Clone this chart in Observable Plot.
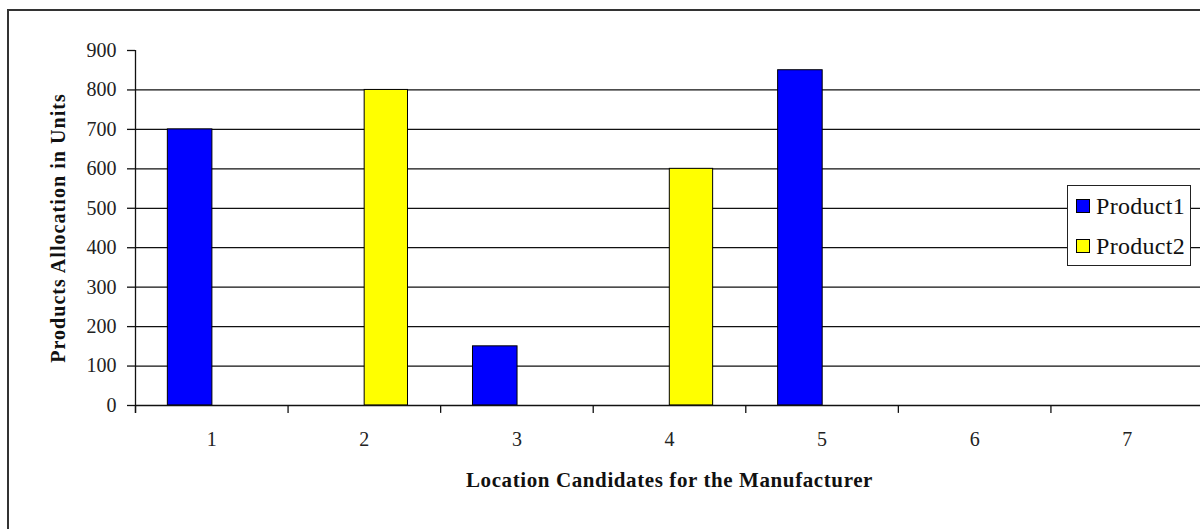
<!DOCTYPE html>
<html>
<head>
<meta charset="utf-8">
<script src="https://cdn.jsdelivr.net/npm/d3@7"></script>
<script src="https://cdn.jsdelivr.net/npm/@observablehq/plot@0.6"></script>
<style>
  html, body { margin: 0; padding: 0; background: #fff; overflow: hidden; }
  #wrap { position: relative; width: 1200px; height: 529px; overflow: hidden; font-family: "Liberation Serif", "Times New Roman", serif; }
  #frame { position: absolute; left: 7px; top: 9px; width: 1300px; height: 700px; border: 2px solid #333; box-sizing: border-box; }
  #chart { position: absolute; left: 0; top: 0; width: 1300px; }
  #chart svg { max-width: none !important; }
  #legend { position: absolute; left: 1067px; top: 185px; width: 124px; height: 81px; border: 1.5px solid #222; background: #fff; box-sizing: border-box; }
  .row { position: absolute; left: 8px; height: 26px; display: flex; align-items: center; font-size: 24px; color: #111; letter-spacing: 0.3px; }
  .sw { width: 12px; height: 12px; border: 1px solid #000; margin-right: 6px; }
</style>
</head>
<body>
<div id="wrap">
  <div id="frame"></div>
  <div id="chart"></div>
  <div id="legend"></div>
</div>
<script>
const categories = ["1", "2", "3", "4", "5", "6", "7"];
const seriesNames = ["Product1", "Product2"];
const product1 = [700, 0, 150, 0, 850, 0, 0];
const product2 = [0, 800, 0, 600, 0, 0, 0];
const yTicks = [0, 100, 200, 300, 400, 500, 600, 700, 800, 900];
const gridValues = [100, 200, 300, 400, 500, 600, 700, 800];
const colors = ["#0000FF", "#FFFF00"];
const xTitle = "Location Candidates for the Manufacturer";
const yTitle = "Products Allocation in Units";

const W = 1210, H = 529, ML = 135, MR = 7, MT = 50, MB = 124;
const bw = (W - ML - MR) / categories.length;

const rows = [];
categories.forEach((c, i) => {
  rows.push({cat: c, series: seriesNames[0], value: product1[i]});
  rows.push({cat: c, series: seriesNames[1], value: product2[i]});
});
const p1 = rows.filter(d => d.series === seriesNames[0] && d.value > 0);
const p2 = rows.filter(d => d.series === seriesNames[1] && d.value > 0);

const chart = Plot.plot({
  width: W,
  height: H,
  marginLeft: ML,
  marginRight: MR,
  marginTop: MT,
  marginBottom: MB,
  style: {fontFamily: "'Liberation Serif', 'Times New Roman', serif", background: "transparent", overflow: "visible", maxWidth: "none"},
  x: {type: "band", domain: categories, padding: 0, round: false, axis: null},
  y: {domain: [0, 900], axis: null},
  marks: [
    Plot.ruleY(gridValues, {stroke: "#111", strokeWidth: 1.3}),
    Plot.barY(p1, {x: "cat", y: "value", fill: colors[0], stroke: "#000", strokeWidth: 1,
      insetLeft: bw * 0.212, insetRight: bw * 0.496}),
    Plot.barY(p2, {x: "cat", y: "value", fill: colors[1], stroke: "#000", strokeWidth: 1,
      insetLeft: bw * 0.502, insetRight: bw * 0.214}),
    Plot.ruleY([0], {stroke: "#111", strokeWidth: 1.3}),
    // y axis line
    Plot.ruleX([categories[0]], {x: d => d, dx: -bw / 2, y1: -20, y2: 900, stroke: "#111", strokeWidth: 1.3}),
    // x boundary ticks
    Plot.ruleX(categories, {x: d => d, dx: -bw / 2, y1: 0, y2: -20, stroke: "#111", strokeWidth: 1.3}),
    Plot.ruleX([categories[categories.length - 1]], {x: d => d, dx: bw / 2, y1: 0, y2: -20, stroke: "#111", strokeWidth: 1.3}),
    Plot.axisY({ticks: yTicks, tickSize: 8, tickPadding: 11, fontSize: 20, tickFormat: d => String(d), color: "#222", stroke: "#111", strokeWidth: 1.3, label: null}),
    Plot.axisX({tickSize: 0, tickPadding: 26, fontSize: 20, color: "#222", label: null}),
    Plot.text([xTitle], {text: d => d, frameAnchor: "bottom", lineAnchor: "middle", textAnchor: "middle", dy: 75, fontSize: 21, fontWeight: "bold", fill: "#111"}),
    Plot.text([yTitle], {text: d => d, frameAnchor: "left", textAnchor: "middle", lineAnchor: "middle", dx: -77, rotate: -90, fontSize: 20, fontWeight: "bold", fill: "#111"})
  ]
});
d3.select(chart).selectAll("text").each(function() {
  const t = this.textContent;
  if (t === xTitle) this.setAttribute("letter-spacing", "0.6");
  if (t === yTitle) this.setAttribute("letter-spacing", "1.05");
});
document.getElementById("chart").appendChild(chart);

const legend = document.getElementById("legend");
seriesNames.forEach((name, i) => {
  const r = document.createElement("div");
  r.className = "row";
  r.style.top = (7 + i * 40) + "px";
  const sw = document.createElement("div");
  sw.className = "sw";
  sw.style.background = colors[i];
  const t = document.createElement("span");
  t.textContent = name;
  r.appendChild(sw);
  r.appendChild(t);
  legend.appendChild(r);
});
</script>
</body>
</html>
